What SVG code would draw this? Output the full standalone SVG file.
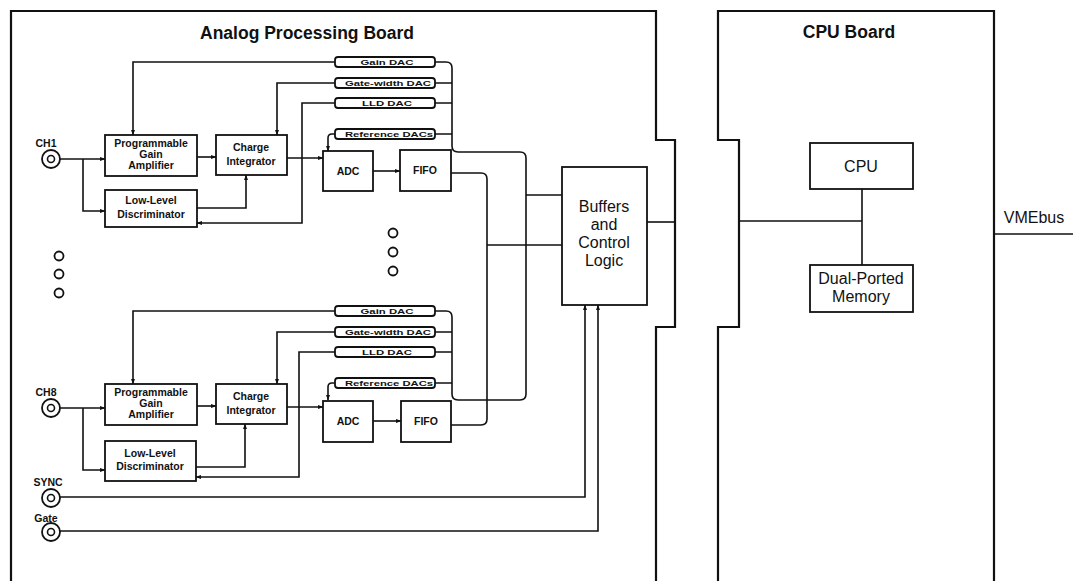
<svg xmlns="http://www.w3.org/2000/svg" width="1073" height="581" viewBox="0 0 1073 581">
<style>
.bd{fill:none;stroke:#111;stroke-width:2.2}
.bx{fill:#fff;stroke:#111;stroke-width:1.8}
.dac{fill:#fff;stroke:#111;stroke-width:1.8}
.ln{fill:none;stroke:#111;stroke-width:1.6}
.ar{fill:none;stroke:#111;stroke-width:1.6;marker-end:url(#ah)}
.t{font-family:"Liberation Sans",Arial,sans-serif;fill:#111;text-anchor:middle}
.s{font-size:10.5px;font-weight:bold}
.d{font-size:8px;font-weight:bold}
.m{font-size:16px}
.h{font-size:17.5px;font-weight:bold}
.dot{fill:none;stroke:#111;stroke-width:1.8}
</style>
<defs>
<marker id="ah" viewBox="0 0 10 10" refX="9" refY="5" markerWidth="6" markerHeight="6" markerUnits="userSpaceOnUse" orient="auto"><path d="M0,1.5 L10,5 L0,8.5 z" fill="#111"/></marker>
</defs>
<rect width="1073" height="581" fill="#fff"/>

<g id="analog-board">
<path class="bd" d="M11,581 V11 H656 V140 H675 V327 H656 V581"/>
<text class="t h" x="307" y="39">Analog Processing Board</text>
</g>
<g id="cpu-board">
<path class="bd" d="M718,581 V327 H739 V140 H718 V11 H994 V581"/>
<text class="t h" x="849" y="38">CPU Board</text>
</g>

<g id="connectors">
<!-- channel 1 -->
<path class="ar" d="M60,159 H105"/>
<path class="ar" d="M83,159 V211 H105"/>
<path class="ar" d="M197,157 H216"/>
<path class="ar" d="M287,158 H323"/>
<path class="ar" d="M197,208 H246 V175"/>
<path class="ar" d="M335,62 H133 V135"/>
<path class="ar" d="M335,83 H277 V135"/>
<path class="ar" d="M335,103 H302 V223 H197"/>
<path class="ar" d="M335,134 H332 Q328,134 328,138 V151"/>
<path class="ar" d="M373,171 H400"/>
<!-- channel 8 -->
<path class="ar" d="M60,408 H105"/>
<path class="ar" d="M83,408 V470 H105"/>
<path class="ar" d="M197,406 H216"/>
<path class="ar" d="M287,407 H323"/>
<path class="ar" d="M196,467 H245 V424"/>
<path class="ar" d="M335,311 H133 V384"/>
<path class="ar" d="M335,332 H277 V384"/>
<path class="ar" d="M335,352 H299 V477 H196"/>
<path class="ar" d="M335,383 H332 Q328,383 328,387 V400"/>
<path class="ar" d="M373,421 H401"/>
<!-- DAC bus -->
<path class="ln" d="M435,62 H446 Q452,62 452,68 V146 Q452,152 458,152 H520 Q526,152 526,158 V394 Q526,400 520,400 H458 Q452,400 452,394 V317 Q452,311 446,311 H435"/>
<path class="ln" d="M435,83 H452 M435,103 H452 M435,134 H452 M435,332 H452 M435,352 H452 M435,383 H452"/>
<!-- FIFO bus -->
<path class="ln" d="M451,173 H481 Q487,173 487,179 V419 Q487,425 481,425 H451"/>
<path class="ln" d="M526,195 H562 M487,245 H562"/>
<path class="ln" d="M647,222 H675"/>
<!-- SYNC / Gate -->
<path class="ar" d="M60,497 H585 V305"/>
<path class="ar" d="M60,531 H598 V305"/>
<!-- CPU board -->
<path class="ln" d="M862,189 V265 M739,221 H862"/>
<path class="ln" d="M994,234 H1073"/>
</g>

<g id="ch1-in">
<text class="t s" x="46" y="147">CH1</text>
<circle class="bx" cx="51" cy="159" r="9"/><circle class="ln" cx="51" cy="159" r="3.5"/>
</g>
<g id="pga1"><rect class="bx" x="105" y="135" width="92" height="41"/>
<text class="t s" x="151" y="147">Programmable</text><text class="t s" x="151" y="158">Gain</text><text class="t s" x="151" y="169">Amplifier</text></g>
<g id="ci1"><rect class="bx" x="216" y="135" width="71" height="40"/>
<text class="t s" x="251" y="151">Charge</text><text class="t s" x="251" y="165">Integrator</text></g>
<g id="lld1"><rect class="bx" x="105" y="190" width="92" height="37"/>
<text class="t s" x="151" y="204">Low-Level</text><text class="t s" x="151" y="218">Discriminator</text></g>
<g id="adc1"><rect class="bx" x="323" y="151" width="50" height="40"/><text class="t s" x="348" y="175">ADC</text></g>
<g id="fifo1"><rect class="bx" x="400" y="150" width="51" height="41"/><text class="t s" x="425" y="174">FIFO</text></g>
<g id="gaindac1"><rect class="dac" x="335" y="57" width="100" height="10" rx="3"/><text class="t d" x="387" y="65" textLength="53" lengthAdjust="spacingAndGlyphs">Gain DAC</text></g>
<g id="gwdac1"><rect class="dac" x="335" y="78" width="100" height="10" rx="3"/><text class="t d" x="388" y="86" textLength="86" lengthAdjust="spacingAndGlyphs">Gate-width DAC</text></g>
<g id="llddac1"><rect class="dac" x="335" y="98" width="100" height="10" rx="3"/><text class="t d" x="387" y="106" textLength="50" lengthAdjust="spacingAndGlyphs">LLD DAC</text></g>
<g id="refdac1"><rect class="dac" x="335" y="129" width="100" height="10" rx="3"/><text class="t d" x="389" y="137" textLength="88" lengthAdjust="spacingAndGlyphs">Reference DACs</text></g>

<g id="dots-left"><circle class="dot" cx="59" cy="256" r="4.5"/><circle class="dot" cx="59" cy="274" r="4.5"/><circle class="dot" cx="59" cy="293" r="4.5"/></g>
<g id="dots-mid"><circle class="dot" cx="393" cy="233" r="4.5"/><circle class="dot" cx="393" cy="252" r="4.5"/><circle class="dot" cx="393" cy="271" r="4.5"/></g>

<g id="ch8-in">
<text class="t s" x="46" y="396">CH8</text>
<circle class="bx" cx="51" cy="408" r="9"/><circle class="ln" cx="51" cy="408" r="3.5"/>
</g>
<g id="pga8"><rect class="bx" x="105" y="384" width="92" height="41"/>
<text class="t s" x="151" y="396">Programmable</text><text class="t s" x="151" y="407">Gain</text><text class="t s" x="151" y="418">Amplifier</text></g>
<g id="ci8"><rect class="bx" x="216" y="384" width="71" height="40"/>
<text class="t s" x="251" y="400">Charge</text><text class="t s" x="251" y="414">Integrator</text></g>
<g id="lld8"><rect class="bx" x="105" y="441" width="91" height="40"/>
<text class="t s" x="150" y="457">Low-Level</text><text class="t s" x="150" y="470">Discriminator</text></g>
<g id="adc8"><rect class="bx" x="323" y="401" width="50" height="41"/><text class="t s" x="348" y="425">ADC</text></g>
<g id="fifo8"><rect class="bx" x="401" y="401" width="50" height="41"/><text class="t s" x="426" y="425">FIFO</text></g>
<g id="gaindac8"><rect class="dac" x="335" y="306" width="100" height="10" rx="3"/><text class="t d" x="387" y="314" textLength="53" lengthAdjust="spacingAndGlyphs">Gain DAC</text></g>
<g id="gwdac8"><rect class="dac" x="335" y="327" width="100" height="10" rx="3"/><text class="t d" x="388" y="335" textLength="86" lengthAdjust="spacingAndGlyphs">Gate-width DAC</text></g>
<g id="llddac8"><rect class="dac" x="335" y="347" width="100" height="10" rx="3"/><text class="t d" x="387" y="355" textLength="50" lengthAdjust="spacingAndGlyphs">LLD DAC</text></g>
<g id="refdac8"><rect class="dac" x="335" y="378" width="100" height="10" rx="3"/><text class="t d" x="389" y="386" textLength="88" lengthAdjust="spacingAndGlyphs">Reference DACs</text></g>

<g id="sync-in"><text class="t s" x="48" y="486">SYNC</text>
<circle class="bx" cx="51" cy="498" r="9"/><circle class="ln" cx="51" cy="498" r="3.5"/></g>
<g id="gate-in"><text class="t s" x="46" y="522">Gate</text>
<circle class="bx" cx="51" cy="532" r="9"/><circle class="ln" cx="51" cy="532" r="3.5"/></g>

<g id="buffers"><rect class="bx" x="562" y="167" width="85" height="138"/>
<text class="t m" x="604" y="212">Buffers</text><text class="t m" x="604" y="230">and</text><text class="t m" x="604" y="248">Control</text><text class="t m" x="604" y="266">Logic</text></g>

<g id="cpu"><rect class="bx" x="810" y="143" width="103" height="46"/><text class="t m" x="861" y="172">CPU</text></g>
<g id="memory"><rect class="bx" x="810" y="265" width="103" height="47"/>
<text class="t m" x="861" y="284">Dual-Ported</text><text class="t m" x="861" y="302">Memory</text></g>
<g id="vmebus"><text class="t m" x="1034" y="223">VMEbus</text></g>
</svg>
